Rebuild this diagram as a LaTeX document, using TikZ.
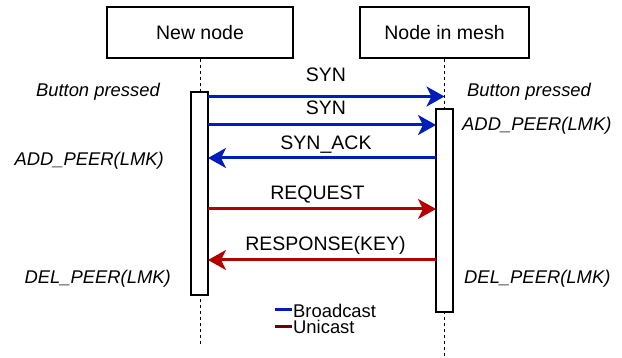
\documentclass[tikz,border=0pt]{standalone}
\usepackage{fontspec}
\setmainfont{Liberation Sans}
\usetikzlibrary{arrows.meta}
\definecolor{bc}{HTML}{001DBC}
\definecolor{uc}{HTML}{B20000}
\definecolor{ucd}{HTML}{6F0000}
\begin{document}
\begin{tikzpicture}[x=1pt,y=-1pt,
  actor/.style={draw, line width=1.3pt, minimum height=51pt, inner sep=0pt, font=\fontsize{19.5}{22}\selectfont},
  act/.style={draw, line width=1.3pt, fill=white, minimum width=17pt, minimum height=203pt, inner sep=0pt},
  life/.style={line width=1pt, dash pattern=on 3pt off 3pt},
  msg/.style={line width=3pt, -{Stealth[length=18pt,width=20pt,inset=5pt]}},
  lbl/.style={font=\fontsize{19.5}{22}\selectfont, anchor=base, inner sep=0pt},
  notel/.style={font=\fontsize{18.4}{20}\selectfont\itshape, anchor=base east, inner sep=0pt},
  noter/.style={font=\fontsize{18.4}{20}\selectfont\itshape, anchor=base west, inner sep=0pt},
  leg/.style={font=\fontsize{18.4}{20}\selectfont, anchor=base west, inner sep=0pt}]
\useasboundingbox (0,0) rectangle (622,358);
% actors
\node[actor, minimum width=186pt] (A) at (200,32.5) {New node};
\node[actor, minimum width=169pt] (B) at (444.5,32.5) {Node in mesh};
% lifelines
\coordinate (Aend) at (200,345);
\coordinate (Bend) at (444.5,358);
\draw[life] (A.south) -- (Aend);
\draw[life] (B.south) -- (Bend);
% activations
\node[act] (aA) at (199.5,193.5) {};
\node[act] (aB) at (444.5,210.5) {};
% message endpoints
\coordinate (m1s) at (208,96.5);   \coordinate (m1e) at (444.5,96.5);
\coordinate (m2s) at (208,125);    \coordinate (m2e) at (436,125);
\coordinate (m3s) at (436,158);    \coordinate (m3e) at (208,158);
\coordinate (m4s) at (208,209);    \coordinate (m4e) at (436,209);
\coordinate (m5s) at (436,260);    \coordinate (m5e) at (208,260);
\draw[msg, bc] (m1s) -- (m1e);
\draw[msg, bc] (m2s) -- (m2e);
\draw[msg, bc] (m3s) -- (m3e);
\draw[msg, uc] (m4s) -- (m4e);
\draw[msg, uc] (m5s) -- (m5e);
% message labels
\node[lbl] (l1) at (326,82) {SYN};
\node[lbl] (l2) at (326,115) {SYN};
\node[lbl] (l3) at (326,150) {SYN\_ACK};
\node[lbl] (l4) at (317.5,200) {REQUEST};
\node[lbl] (l5) at (325.5,251) {RESPONSE(KEY)};
% notes
\node[notel] (n1) at (160,97) {Button pressed};
\node[notel] (n2) at (164,166) {ADD\_PEER(LMK)};
\node[notel] (n3) at (171,284) {DEL\_PEER(LMK)};
\node[noter] (n4) at (467,97) {Button pressed};
\node[noter] (n5) at (462,131) {ADD\_PEER(LMK)};
\node[noter] (n6) at (464,284) {DEL\_PEER(LMK)};
% legend
\coordinate (g1a) at (275,310); \coordinate (g1b) at (291.5,310);
\coordinate (g2a) at (275,327); \coordinate (g2b) at (291.5,327);
\draw[bc, line width=3pt] (g1a) -- (g1b);
\draw[ucd, line width=3pt] (g2a) -- (g2b);
\node[leg] (t1) at (293,318) {Broadcast};
\node[leg] (t2) at (293,334) {Unicast};
\end{tikzpicture}
\end{document}
